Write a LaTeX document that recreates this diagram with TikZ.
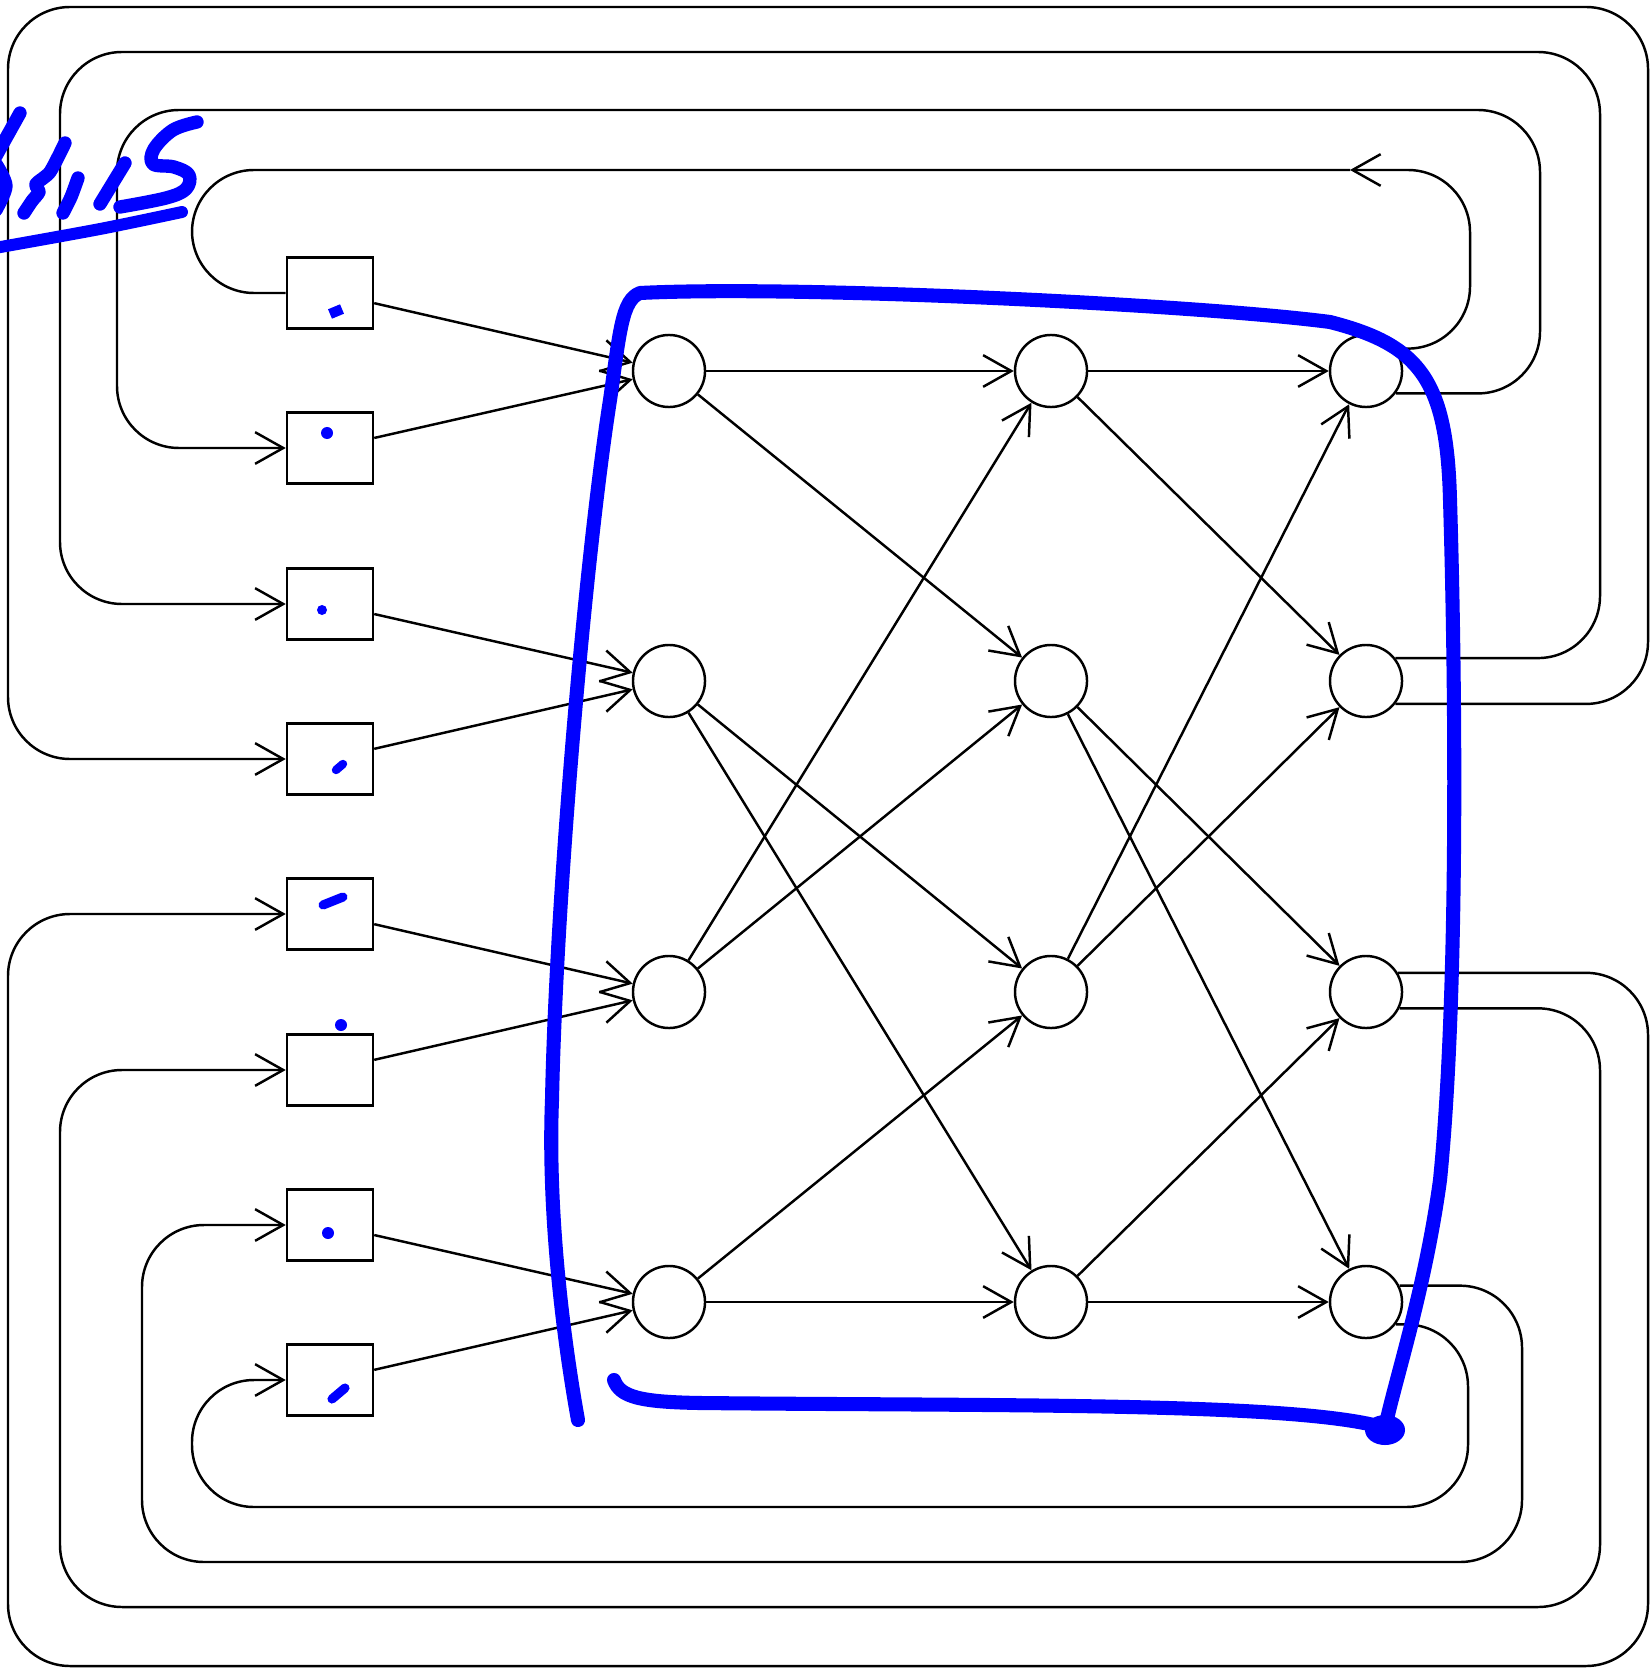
\documentclass[tikz,border=0pt]{standalone}
\usepackage{amsmath}
\usepackage{xcolor}
\usetikzlibrary{arrows.meta}

\begin{document}
\begin{tikzpicture}[x=0.01cm, y=-0.01cm, line width=0.7pt,
  >={Straight Barb[length=8pt,width=9pt]},
  reg/.style={draw, rectangle, minimum width=0.86cm, minimum height=0.71cm, inner sep=0pt},
  cell/.style={draw, circle, minimum size=0.72cm, inner sep=0pt},
  wire/.style={rounded corners=0.62cm},
  ink/.style={blue, line width=4pt, line cap=round, line join=round},
  pen/.style={blue, line width=3.8pt, line cap=round, line join=round}]
\useasboundingbox (0,0) rectangle (1652,1670);

\node (B1) at (330,293) [reg] {};
\node (B2) at (330,448) [reg] {};
\node (B3) at (330,604) [reg] {};
\node (B4) at (330,759) [reg] {};
\node (B5) at (330,914) [reg] {};
\node (B6) at (330,1070) [reg] {};
\node (B7) at (330,1225) [reg] {};
\node (B8) at (330,1380) [reg] {};

\node (N11) at (669,371) [cell] {};
\node (N21) at (669,681) [cell] {};
\node (N31) at (669,992) [cell] {};
\node (N41) at (669,1302) [cell] {};
\node (N12) at (1051,371) [cell] {};
\node (N22) at (1051,681) [cell] {};
\node (N32) at (1051,992) [cell] {};
\node (N42) at (1051,1302) [cell] {};
\node (N13) at (1366,371) [cell] {};
\node (N23) at (1366,681) [cell] {};
\node (N33) at (1366,992) [cell] {};
\node (N43) at (1366,1302) [cell] {};

\draw [->] (B1) -- (N11);
\draw [->] (B2) -- (N11);
\draw [->] (B3) -- (N21);
\draw [->] (B4) -- (N21);
\draw [->] (B5) -- (N31);
\draw [->] (B6) -- (N31);
\draw [->] (B7) -- (N41);
\draw [->] (B8) -- (N41);

\draw [->] (N11) -- (N12);
\draw [->] (N11) -- (N22);
\draw [->] (N21) -- (N32);
\draw [->] (N21) -- (N42);
\draw [->] (N31) -- (N12);
\draw [->] (N31) -- (N22);
\draw [->] (N41) -- (N32);
\draw [->] (N41) -- (N42);

\draw [->] (N12) -- (N13);
\draw [->] (N12) -- (N23);
\draw [->] (N22) -- (N33);
\draw [->] (N22) -- (N43);
\draw [->] (N32) -- (N13);
\draw [->] (N32) -- (N23);
\draw [->] (N42) -- (N33);
\draw [->] (N42) -- (N43);

\coordinate (T) at (1350,170);
\draw [->, wire] (N13.37) -| (1470,170) -- (T);
\draw [wire] (T) -| (192,293) -- (B1.west);
\draw [->, wire] (N13.-37) -| (1540,110) -| (117,448) -- (B2.west);
\draw [->, wire] (N23.38) -| (1600,52) -| (60,604) -- (B3.west);
\draw [->, wire] (N23.-38) -| (1648,7) -| (8,759) -- (B4.west);
\draw [->, wire] (N33.31) -| (1648,1666) -| (8,914) -- (B5.west);
\draw [->, wire] (N33.-26) -| (1600,1607) -| (60,1070) -- (B6.west);
\draw [->, wire] (N43.26) -| (1522,1562) -| (142,1225) -- (B7.west);
\draw [->, wire] (N43.-37) -| (1468,1507) -| (192,1380) -- (B8.west);

\draw [ink] (578,1420) .. controls (560,1320) and (548,1200) .. (552,1100)
  .. controls (556,900) and (585,560) .. (610,400)
  .. controls (620,330) and (622,300) .. (640,293)
  .. controls (800,285) and (1200,305) .. (1330,322)
  .. controls (1420,345) and (1447,380) .. (1450,500)
  .. controls (1456,700) and (1458,1000) .. (1440,1180)
  .. controls (1425,1290) and (1395,1380) .. (1385,1428);
\draw [ink] (614,1380) .. controls (620,1397) and (640,1402) .. (700,1403)
  .. controls (1000,1406) and (1300,1402) .. (1385,1428);
\fill [blue] (1385,1430) ellipse (0.2cm and 0.15cm);

\draw [pen, line width=2.9pt, line cap=butt] (330,314) -- (342,309);
\fill [blue] (327,433) circle (0.06cm);
\fill [blue] (322,610) circle (0.05cm);
\draw [pen, line width=2.4pt] (336,770) -- (343,764);
\draw [pen, line width=2.6pt] (323,905) -- (343,897);
\fill [blue] (341,1025) circle (0.06cm);
\fill [blue] (328,1233) circle (0.06cm);
\draw [pen, line width=2.6pt] (332,1399) -- (345,1388);

\draw [pen] (20,113) -- (-4,156);
\draw [pen] plot [smooth] coordinates {(-4,164) (6,186) (-4,210)};
\draw [pen] plot [smooth, tension=0.4] coordinates {(65,143) (50,172) (36,184) (39,192) (32,201) (24,213)};
\draw [pen] plot [smooth] coordinates {(78,178) (71,197) (63,213)};
\draw [pen] (125,163) -- (100,204);
\draw [pen] plot [smooth, tension=0.6] coordinates {(197,122) (173,130) (154,149) (153,164) (174,167) (189,175) (186,189) (166,198) (120,207)};
\draw [pen, line width=3.4pt] plot [smooth] coordinates {(182,212) (100,229) (-5,248)};

\end{tikzpicture}
\end{document}
